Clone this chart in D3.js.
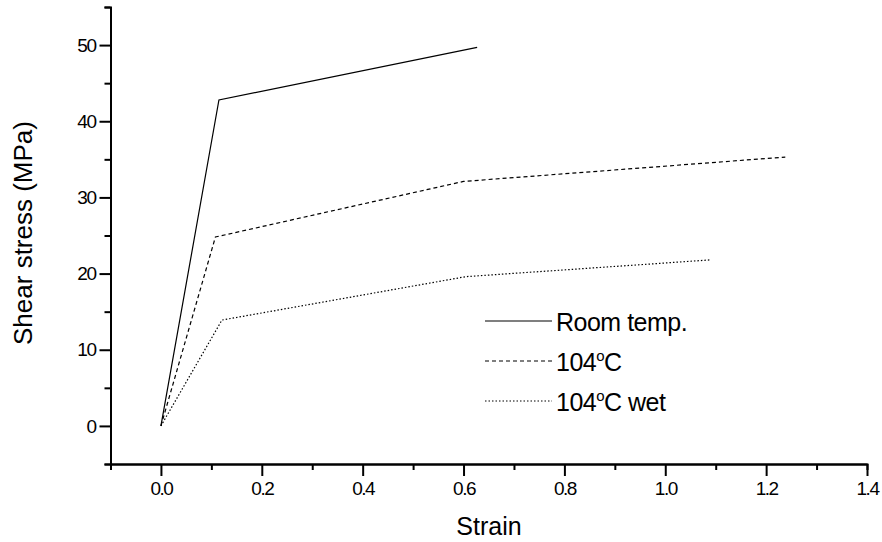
<!DOCTYPE html>
<html>
<head>
  <meta http-equiv="Content-Type" content="text/html;charset=utf-8">
  <title>Shear stress vs strain</title>
  <script src="https://d3js.org/d3.v7.min.js"></script>
  <style type="text/css">
    body { margin: 0; background: #fff; }
    svg { font-family: "Liberation Sans", Arial, sans-serif; }
    .axis path, .axis line { stroke: #000; stroke-width: 2px; }
    .axis text { font-size: 19px; letter-spacing: -1.5px; fill: #000; }
  </style>
</head>
<body>
  <svg width="882" height="542"></svg>
  <script type='text/javascript'>
    const roomStrain = [0, 0.115, 0.627];
    const roomStress = [0, 42.8, 49.7];
    const hotStrain = [0, 0.108, 0.60, 1.238];
    const hotStress = [0, 24.8, 32.1, 35.3];
    const wetStrain = [0, 0.121, 0.605, 1.09];
    const wetStress = [0, 13.9, 19.6, 21.8];
    const xTicks = [0, 0.2, 0.4, 0.6, 0.8, 1.0, 1.2, 1.4];
    const xMinor = [-0.1, 0.1, 0.3, 0.5, 0.7, 0.9, 1.1, 1.3];
    const yTicks = [0, 10, 20, 30, 40, 50];
    const yMinor = [-5, 5, 15, 25, 35, 45, 55];

    const svg = d3.select('svg');
    const x = d3.scaleLinear().domain([-0.1, 1.4]).range([110.5, 867]);
    const y = d3.scaleLinear().domain([-5, 55]).range([464, 7]);

    // minor ticks first, majors with labels on top
    svg.append('g').attr('class', 'axis')
      .attr('transform', 'translate(0,464)')
      .call(d3.axisBottom(x).tickValues(xMinor).tickSize(6).tickFormat(''));
    svg.append('g').attr('class', 'axis')
      .attr('transform', 'translate(0,464)')
      .call(d3.axisBottom(x).tickValues(xTicks).tickSize(12).tickSizeOuter(0).tickPadding(6)
        .tickFormat(d3.format('.1f')));

    svg.append('g').attr('class', 'axis')
      .attr('transform', 'translate(110.5,0)')
      .call(d3.axisLeft(y).tickValues(yMinor).tickSize(6).tickFormat(''));
    svg.append('g').attr('class', 'axis')
      .attr('transform', 'translate(110.5,0)')
      .call(d3.axisLeft(y).tickValues(yTicks).tickSize(11).tickSizeOuter(0).tickPadding(4)
        .tickFormat(d3.format('d')));

    svg.append('text')
      .attr('x', 489).attr('y', 535)
      .attr('text-anchor', 'middle')
      .style('font-size', '25px')
      .text('Strain');

    svg.append('text')
      .attr('transform', 'translate(32,233) rotate(-90)')
      .attr('text-anchor', 'middle')
      .style('font-size', '26px')
      .text('Shear stress (MPa)');

    const series = [
      { xs: roomStrain, ys: roomStress, dash: null },
      { xs: hotStrain, ys: hotStress, dash: '4,3' },
      { xs: wetStrain, ys: wetStress, dash: '1.5,2' }
    ];
    const line = d3.line().x((d) => x(d[0])).y((d) => y(d[1]));

    svg.selectAll('path.series')
      .data(series)
      .enter().append('path')
        .attr('class', 'series')
        .attr('fill', 'none')
        .attr('stroke', '#000')
        .attr('stroke-width', 1.2)
        .attr('stroke-dasharray', (s) => s.dash)
        .attr('d', (s) => line(s.xs.map((v, i) => [v, s.ys[i]])));

    // legend
    const legendNames = [['Room temp.'], ['104', 'C'], ['104', 'C wet']];
    const legend = svg.selectAll('g.legend')
      .data(series)
      .enter().append('g')
        .attr('class', 'legend')
        .attr('transform', (s, i) => 'translate(485,' + (321 + i * 40) + ')');
    legend.append('line')
      .attr('x1', 0).attr('x2', 67)
      .attr('stroke', '#000')
      .attr('stroke-width', 1.2)
      .attr('stroke-dasharray', (s) => s.dash);
    const lt = legend.append('text')
      .attr('x', 71).attr('y', 10)
      .style('font-size', '25px')
      .style('letter-spacing', '-0.5px');
    lt.each(function (s, i) {
      const t = d3.select(this);
      const parts = legendNames[i];
      t.append('tspan').text(parts[0]);
      if (parts.length > 1) {
        t.append('tspan').attr('dy', -10).style('font-size', '15px').text('o');
        t.append('tspan').attr('dy', 10).text(parts[1]);
      }
    });
  </script>
</body>
</html>
